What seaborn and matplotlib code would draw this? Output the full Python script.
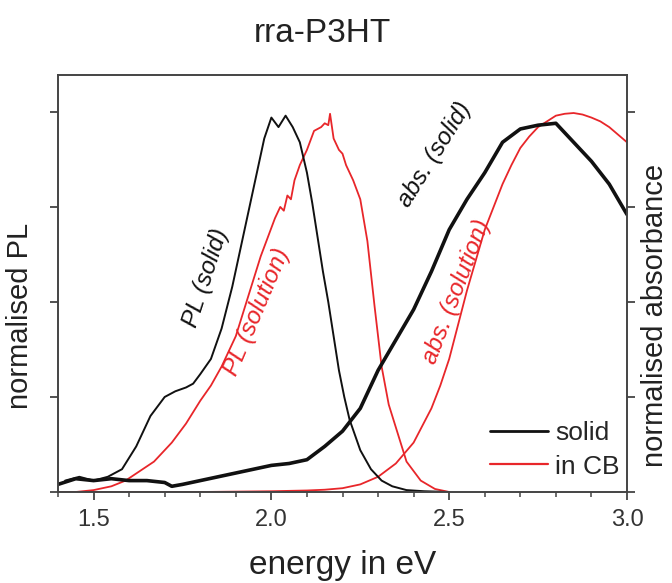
import matplotlib
matplotlib.use("Agg")
import matplotlib.pyplot as plt
from matplotlib.lines import Line2D
from matplotlib.ticker import MultipleLocator
import seaborn as sns

sns.set_style("ticks")
plt.rcParams["font.family"] = ["Liberation Sans", "DejaVu Sans"]

# Photoluminescence, solid film
pl_solid_e = [1.42, 1.46, 1.50, 1.54, 1.58, 1.62, 1.66, 1.70, 1.73, 1.76, 1.78, 1.80,
              1.83, 1.86, 1.89, 1.92, 1.95, 1.98, 2.00, 2.02, 2.04, 2.06, 2.08, 2.10,
              2.115, 2.13, 2.145, 2.16, 2.175, 2.19, 2.205, 2.22, 2.235, 2.25, 2.28,
              2.31, 2.34, 2.38, 2.43, 2.50]
pl_solid_v = [0.03, 0.04, 0.03, 0.04, 0.06, 0.12, 0.20, 0.25, 0.265, 0.275, 0.285, 0.31,
              0.35, 0.43, 0.54, 0.67, 0.80, 0.93, 0.985, 0.96, 0.99, 0.96, 0.92, 0.84,
              0.76, 0.67, 0.58, 0.50, 0.41, 0.32, 0.25, 0.19, 0.15, 0.11, 0.06,
              0.03, 0.015, 0.005, 0.002, 0.0]

# Photoluminescence, chlorobenzene solution
pl_sol_e = [1.45, 1.50, 1.55, 1.59, 1.63, 1.67, 1.72, 1.76, 1.80, 1.83, 1.86, 1.90,
            1.94, 1.97, 1.99, 2.01, 2.025, 2.035, 2.045, 2.055, 2.065, 2.08, 2.10, 2.12,
            2.14, 2.15, 2.16, 2.165, 2.175, 2.19, 2.20, 2.21, 2.23, 2.25, 2.27, 2.29,
            2.31, 2.33, 2.35, 2.38, 2.42, 2.46, 2.50]
pl_sol_v = [0.0, 0.005, 0.015, 0.03, 0.055, 0.08, 0.13, 0.18, 0.24, 0.28, 0.33, 0.41,
            0.53, 0.62, 0.67, 0.72, 0.75, 0.74, 0.78, 0.77, 0.82, 0.86, 0.90, 0.95,
            0.96, 0.97, 0.965, 0.995, 0.93, 0.90, 0.89, 0.86, 0.82, 0.77, 0.66, 0.49,
            0.33, 0.23, 0.17, 0.08, 0.03, 0.008, 0.0]

# Absorbance, solid film
abs_solid_e = [1.40, 1.45, 1.50, 1.55, 1.60, 1.65, 1.70, 1.72, 1.75, 1.80, 1.85, 1.90,
               1.95, 2.00, 2.05, 2.10, 2.15, 2.20, 2.25, 2.30, 2.35, 2.40, 2.45, 2.50,
               2.55, 2.60, 2.65, 2.70, 2.75, 2.80, 2.85, 2.90, 2.95, 3.00]
abs_solid_v = [0.02, 0.035, 0.03, 0.035, 0.03, 0.03, 0.025, 0.015, 0.02, 0.03, 0.04, 0.05,
               0.06, 0.07, 0.075, 0.085, 0.12, 0.16, 0.22, 0.32, 0.40, 0.48, 0.58, 0.69,
               0.77, 0.84, 0.92, 0.955, 0.965, 0.97, 0.92, 0.87, 0.81, 0.73]

# Absorbance, chlorobenzene solution
abs_sol_e = [1.40, 1.60, 1.80, 2.00, 2.10, 2.15, 2.20, 2.25, 2.30, 2.35, 2.40, 2.45,
             2.475, 2.50, 2.525, 2.55, 2.575, 2.60, 2.625, 2.65, 2.675, 2.70, 2.725,
             2.75, 2.775, 2.80, 2.825, 2.85, 2.875, 2.90, 2.925, 2.95, 2.975, 3.00]
abs_sol_v = [0.0, 0.0, 0.0, 0.002, 0.004, 0.006, 0.01, 0.02, 0.04, 0.075, 0.13, 0.22,
             0.28, 0.35, 0.44, 0.53, 0.61, 0.69, 0.75, 0.81, 0.86, 0.905, 0.935,
             0.96, 0.975, 0.99, 0.995, 0.997, 0.993, 0.985, 0.975, 0.96, 0.94, 0.92]

x_ticks = [1.5, 2.0, 2.5, 3.0]
x_tick_labels = ["1.5", "2.0", "2.5", "3.0"]
legend_labels = ["solid", "in CB"]

BLACK = "#111111"
RED = "#e8262a"

fig = plt.figure(figsize=(6.72, 5.83), dpi=100)
ax = fig.add_axes([58 / 672, 1 - 492 / 583, (627 - 58) / 672, (492 - 75) / 583])

sns.lineplot(x=abs_sol_e, y=abs_sol_v, ax=ax, color=RED, lw=1.3, estimator=None, sort=False)
sns.lineplot(x=pl_sol_e, y=pl_sol_v, ax=ax, color=RED, lw=1.3, estimator=None, sort=False)
sns.lineplot(x=abs_solid_e, y=abs_solid_v, ax=ax, color=BLACK, lw=2.6, estimator=None, sort=False)
sns.lineplot(x=pl_solid_e, y=pl_solid_v, ax=ax, color=BLACK, lw=1.4, estimator=None, sort=False)

ax.set_xlim(1.4, 3.0)
ax.set_ylim(0, 1.097)
ax.set_xticks(x_ticks)
ax.set_xticklabels(x_tick_labels)
ax.xaxis.set_minor_locator(MultipleLocator(0.1))
ax.set_yticks([0, 0.25, 0.5, 0.75, 1.0])
ax.set_yticklabels([])

for s in ax.spines.values():
    s.set_visible(True)
    s.set_color("#444444")
    s.set_linewidth(1.4)

ax.tick_params(axis="both", which="major", direction="out", length=6, width=1.3,
               color="#444444", labelsize=17, labelcolor="#333333", pad=6)
ax.tick_params(axis="x", which="minor", direction="out", length=3.5, width=1.1, color="#444444")
ax.tick_params(axis="y", which="both", left=True, right=True, labelleft=False, labelright=False)

ax.set_xlabel("energy in eV", fontsize=24, color="#222222", labelpad=14)

# axis titles on both sides, set slightly below the middle of the frame
fig.text(20 / 672, 1 - 316 / 583, "normalised PL", rotation=90, fontsize=21,
         color="#222222", ha="center", va="center")
fig.text(655 / 672, 1 - 315 / 583, "normalised absorbance", rotation=90, fontsize=21,
         color="#222222", ha="center", va="center")

fig.text(322 / 672, 1 - 34 / 583, "rra-P3HT", fontsize=24, color="#222222",
         ha="center", va="center")

# curve annotations
def note(px, py, s, rot, color):
    ax.text(px / 672, 1 - py / 583, s, transform=fig.transFigure, rotation=rot,
            rotation_mode="anchor", ha="center", va="center", fontsize=17.5,
            style="italic", color=color)

note(206, 278, "PL (solid)", 72, BLACK)
note(257, 312, "PL (solution)", 67, RED)
note(435, 155, "abs. (solid)", 58, BLACK)
note(457, 292, "abs. (solution)", 69, RED)

handles = [Line2D([0], [0], color=BLACK, lw=2), Line2D([0], [0], color=RED, lw=1.6)]
ax.legend(handles, legend_labels, loc="lower right", frameon=False, fontsize=19,
          handlelength=2.2, handletextpad=0.25, labelspacing=0.35,
          borderaxespad=0.3, bbox_to_anchor=(1.019, -0.012))

fig.savefig("out.png", dpi=100)
